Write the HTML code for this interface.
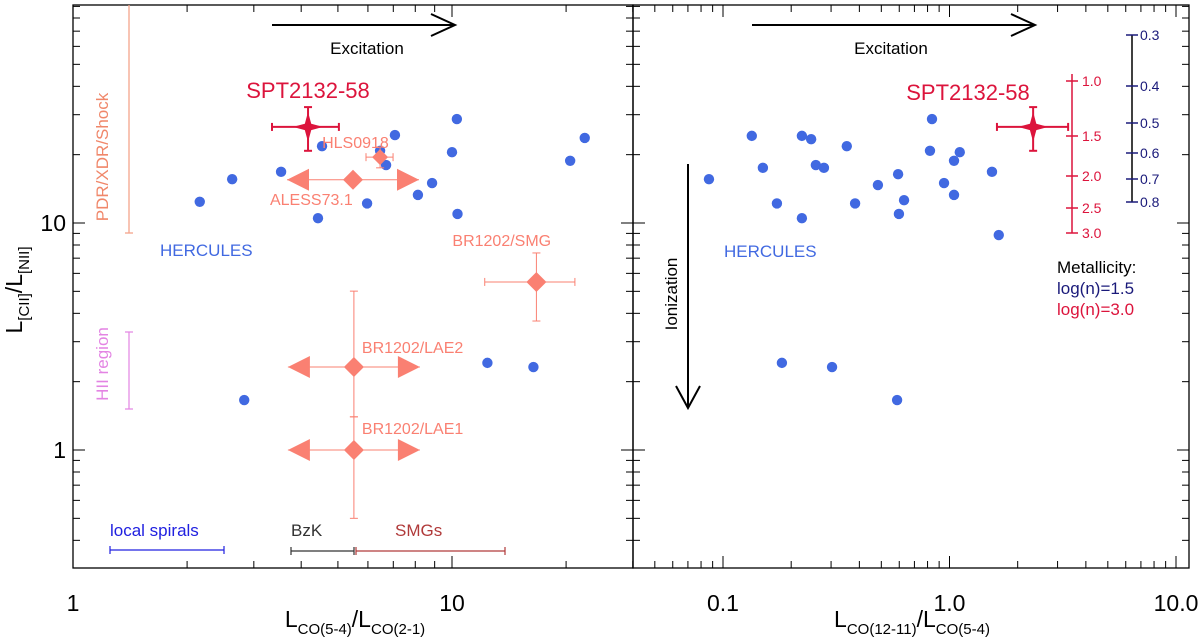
<!DOCTYPE html>
<html><head><meta charset="utf-8">
<style>
html,body{margin:0;padding:0;background:#fff;}
svg{display:block;font-family:"Liberation Sans",Arial,sans-serif;}
</style></head>
<body>
<svg id="chart" width="1200" height="642" viewBox="0 0 1200 642" xmlns="http://www.w3.org/2000/svg">
<rect width="1200" height="642" fill="#fff"/>
<g id="g"></g>
</svg>
<script>
// ---- data ----
var leftHercX = [2.16,2.63,3.54,4.54,4.43,5.97,6.46,6.70,7.07,8.13,8.86,10.0,10.3,10.34,20.5,22.4,12.4,16.4,2.83];
var leftHercY = [12.4,15.6,16.8,21.8,10.5,12.2,20.8,18.0,24.4,13.3,15.0,20.5,28.7,10.96,18.8,23.7,2.42,2.32,1.66];
var rightHercX = [0.0867,0.134,0.150,0.173,0.223,0.245,0.223,0.257,0.279,0.352,0.383,0.483,0.593,0.630,0.598,0.837,0.820,1.11,1.047,0.946,1.047,1.54,1.65,0.182,0.303,0.587];
var rightHercY = [15.6,24.2,17.5,12.2,24.2,23.4,10.5,18.0,17.5,21.8,12.2,14.7,16.4,12.6,10.96,28.7,20.8,20.5,18.8,15.0,13.3,16.8,8.85,2.42,2.32,1.66];
var sptLeft = {x:4.17, y:26.5, xlo:3.35, xhi:5.03, ylo:20.8, yhi:32.4};
var sptRight = {x:2.34, y:26.5, xlo:1.62, xhi:3.34, ylo:20.8, yhi:32.4};
var smgNames = ["HLS0918","ALESS73.1","BR1202/SMG","BR1202/LAE2","BR1202/LAE1"];
var smgX =   [6.46, 5.48, 16.7, 5.51, 5.51];
var smgY =   [19.5, 15.5, 5.5, 2.32, 1.0];
var smgXlo = [5.93, null, 12.2, null, null];
var smgXhi = [6.99, null, 21.1, null, null];
var smgYlo = [17.5, null, 3.70, 1.40, 0.50];
var smgYhi = [21.6, 16.2, 7.38, 5.01, 1.40];
var smgLimit = [false, true, false, true, true];
var leftXTicks = [1,10];
var rightXTicks = [0.1,1.0,10.0];
var rightXTickLabels = ["0.1","1.0","10.0"];
var yTicks = [1,10];
var ionRedVals = [1.0,1.5,2.0,2.5,3.0];
var ionBlueVals = [0.3,0.4,0.5,0.6,0.7,0.8];

// ---- scales ----
var T=5, B=568, LL=73, LR=633, RL=633, RR=1189;
function yS(v){return 450 - Math.log10(v)*227;}
function xL(v){return 73 + Math.log10(v)*379;}
function xR(v){return 723 + (Math.log10(v)+1)*226.5;}
var yMin=Math.pow(10,(450-B)/227), yMax=Math.pow(10,(450-T)/227);

var NS="http://www.w3.org/2000/svg", G=document.getElementById('g');
function el(t,a,p){var e=document.createElementNS(NS,t);for(var k in a)e.setAttribute(k,a[k]);(p||G).appendChild(e);return e;}
function line(x1,y1,x2,y2,c,w,p){return el('line',{x1:x1,y1:y1,x2:x2,y2:y2,stroke:c,'stroke-width':w||1},p);}
function txt(x,y,s,o,p){var a={x:x,y:y};for(var k in o)a[k]=o[k];var e=el('text',a,p);e.textContent=s;return e;}

// ---- frames & ticks ----
function frame(x0,x1,xs,xmin,xmax){
  var f=el('rect',{x:x0,y:T,width:x1-x0,height:B-T,fill:'none',stroke:'#000','stroke-width':1.3});
  
  
  for(var d=-2;d<=2;d++)for(var m=1;m<=9;m++){
    var v=m*Math.pow(10,d); if(v<xmin*0.999||v>xmax*1.001)continue;
    var px=xs(v), L=(m==1)?12:7;
    line(px,B,px,B-L,'#000',1); line(px,T,px,T+L,'#000',1);
  }
  for(var d=-1;d<=2;d++)for(var m=1;m<=9;m++){
    var v=m*Math.pow(10,d); if(v<yMin||v>yMax)continue;
    var py=yS(v), L=(m==1)?12:7;
    line(x0,py,x0+L,py,'#000',1); line(x1,py,x1-L,py,'#000',1);
  }
}
frame(LL,LR,xL,1,Math.pow(10,(LR-73)/379));
frame(RL,RR,xR,Math.pow(10,(RL-723)/226.5-1),Math.pow(10,(RR-723)/226.5-1));

// tick labels
leftXTicks.forEach(function(v){var t=txt(xL(v),611,String(v),{'font-size':23,'text-anchor':'middle'});
  
  });
rightXTicks.forEach(function(v,i){var t=txt(xR(v),611,rightXTickLabels[i],{'font-size':23,'text-anchor':'middle'});
  
  });
yTicks.forEach(function(v){var t=txt(66,yS(v)+8,String(v),{'font-size':23,'text-anchor':'end'});
  
  });

// axis titles
var xt1=el('text',{x:355,y:627,'font-size':23,'text-anchor':'middle'});
xt1.innerHTML='L<tspan font-size="15" dy="7">CO(5-4)</tspan><tspan dy="-7">/L</tspan><tspan font-size="15" dy="7">CO(2-1)</tspan>';


var xt2=el('text',{x:912,y:627,'font-size':23,'text-anchor':'middle'});
xt2.innerHTML='L<tspan font-size="15" dy="7">CO(12-11)</tspan><tspan dy="-7">/L</tspan><tspan font-size="15" dy="7">CO(5-4)</tspan>';


var yt=el('text',{x:0,y:0,'font-size':23,'text-anchor':'middle',transform:'translate(22,290) rotate(-90)'});
yt.innerHTML='L<tspan font-size="15" dy="7">[CII]</tspan><tspan dy="-7">/L</tspan><tspan font-size="15" dy="7">[NII]</tspan>';



// ---- helpers for markers ----
var BLUE='#4169e1', CRIM='#dc143c', SAL='#fa8072';
function errbar(x1,y1,x2,y2,c,w,vert){
  line(x1,y1,x2,y2,c,w||1);
  if(vert){line(x1-4,y1,x1+4,y1,c,w||1);line(x2-4,y2,x2+4,y2,c,w||1);}
  else{line(x1,y1-4,x1,y1+4,c,w||1);line(x2,y2-4,x2,y2+4,c,w||1);}
}
function star(cx,cy,r,c){
  var w=3.2;
  var d='M'+cx+','+(cy-r)+' L'+(cx+w)+','+(cy-w)+' L'+(cx+r)+','+cy+' L'+(cx+w)+','+(cy+w)+' L'+cx+','+(cy+r)+' L'+(cx-w)+','+(cy+w)+' L'+(cx-r)+','+cy+' L'+(cx-w)+','+(cy-w)+'Z';
  return el('path',{d:d,fill:c});
}
function diamond(cx,cy,r,c){return el('path',{d:'M'+cx+','+(cy-r)+' L'+(cx+r)+','+cy+' L'+cx+','+(cy+r)+' L'+(cx-r)+','+cy+'Z',fill:c});}

// ---- Hercules points ----
leftHercX.forEach(function(v,i){var c=el('circle',{cx:xL(v),cy:yS(leftHercY[i]),r:5.2,fill:BLUE});
  
  });
rightHercX.forEach(function(v,i){var c=el('circle',{cx:xR(v),cy:yS(rightHercY[i]),r:5.2,fill:BLUE});
  
  });

// ---- SPT ----
function spt(s,xs){
  errbar(xs(s.xlo),yS(s.y),xs(s.xhi),yS(s.y),CRIM,2,false);
  errbar(xs(s.x),yS(s.ylo),xs(s.x),yS(s.yhi),CRIM,2,true);
  var st=star(xs(s.x),yS(s.y),15,CRIM);
  
  
}
spt(sptLeft,xL); spt(sptRight,xR);

// ---- high-z points ----
var labelOff=[[-58,-9],[-83,25],[-84,-36],[8,-14],[8,-16]];
smgX.forEach(function(v,i){
  var cx=xL(v), cy=yS(smgY[i]);
  if(smgXlo[i]!==null) errbar(xL(smgXlo[i]),cy,xL(smgXhi[i]),cy,SAL,1,false);
  if(smgYlo[i]!==null) errbar(cx,yS(smgYlo[i]),cx,yS(smgYhi[i]),SAL,1,true);
  else line(cx,cy,cx,yS(smgYhi[i]),SAL,1);
  if(smgYlo[i]===null) line(cx-4,yS(smgYhi[i]),cx+4,yS(smgYhi[i]),SAL,1);
  if(smgLimit[i]){
    line(cx-66,cy,cx+66,cy,SAL,1);
    el('path',{d:'M'+(cx-66)+','+cy+' L'+(cx-44)+','+(cy-11)+' L'+(cx-44)+','+(cy+11)+'Z',fill:SAL});
    el('path',{d:'M'+(cx+66)+','+cy+' L'+(cx+44)+','+(cy-11)+' L'+(cx+44)+','+(cy+11)+'Z',fill:SAL});
  }
  var dm=diamond(cx,cy,(i==0)?8:10,SAL);
  
  
  var t=txt(cx+labelOff[i][0],cy+labelOff[i][1],smgNames[i],{'font-size':16,fill:SAL});
  
  
});

// ---- annotations ----
function arrowH(x1,x2,y,name){
  var g=el('g',{});
  line(x1,y,x2,y,'#000',2,g);
  el('path',{d:'M'+(x2-24)+','+(y-11)+' L'+x2+','+y+' L'+(x2-24)+','+(y+11),fill:'none',stroke:'#000','stroke-width':2},g);
}
arrowH(272,455,25,'excitation-arrow-left');
arrowH(752,1035,25,'excitation-arrow-right');
var e1=txt(367,54,'Excitation',{'font-size':17,'text-anchor':'middle'});


var e2=txt(891,54,'Excitation',{'font-size':17,'text-anchor':'middle'});


// ionization arrow
var ia=el('g',{});
line(688,164,688,408,'#000',2,ia);
el('path',{d:'M676,386 L688,408 L700,386',fill:'none',stroke:'#000','stroke-width':2},ia);
var il=txt(0,0,'Ionization',{'font-size':17,'text-anchor':'middle',transform:'translate(677,294) rotate(-90)'});



var s1=txt(308,98,'SPT2132-58',{'font-size':22,fill:CRIM,'text-anchor':'middle'});


var s2=txt(968,100,'SPT2132-58',{'font-size':22,fill:CRIM,'text-anchor':'middle'});


var h1=txt(160,256,'HERCULES',{'font-size':17,fill:BLUE});


var h2=txt(724,257,'HERCULES',{'font-size':17,fill:BLUE});



// PDR and HII bars
var PDRC='#f4a48c';
line(129,T,129,233,PDRC,1.3); line(125,233,133,233,PDRC,1.3);
var pl=txt(0,0,'PDR/XDR/Shock',{'font-size':17,fill:'#f0876a','text-anchor':'middle',transform:'translate(108,157) rotate(-90)'});


var HC='#e384e3';
line(129,332,129,409,HC,1.2); line(125,332,133,332,HC,1.2); line(125,409,133,409,HC,1.2);
var hl=txt(0,0,'HII region',{'font-size':17,fill:HC,'text-anchor':'middle',transform:'translate(108,364) rotate(-90)'});



// bottom ranges
function rng(x1,x2,y,c,label,lx,name){
  errbar(x1,y,x2,y,c,1.2,false);
  var t=txt(lx,536,label,{'font-size':17,fill:c});
  
  
}
rng(110,224,550,'#2020e0','local spirals',110,'local-spirals-label');
rng(291,354,551,'#333','BzK',291,'bzk-label');
rng(356,505,551,'#b03a3a','SMGs',395,'smgs-label');

// metallicity scales
var rg=el('g',{});
var redY=[81,136,176,208,233];
line(1072,74,1072,233,CRIM,1.5,rg);
ionRedVals.forEach(function(v,i){line(1066,redY[i],1078,redY[i],CRIM,1.5,rg);
  txt(1082,redY[i]+5,v.toFixed(1),{'font-size':14,fill:CRIM},rg);});
var bg=el('g',{});
var blueY=[35,86,123,153,179,202];
line(1132,35,1132,202,'#000',1.5,bg);
ionBlueVals.forEach(function(v,i){line(1126,blueY[i],1138,blueY[i],'#1a1a7a',1.5,bg);
  txt(1140,blueY[i]+5,v.toFixed(1),{'font-size':14,fill:'#1a1a7a'},bg);});
var m1=txt(1057,273,'Metallicity:',{'font-size':17,fill:'#000'});


var m2=txt(1057,294,'log(n)=1.5',{'font-size':17,fill:'#1a1a7a'});


var m3=txt(1057,315,'log(n)=3.0',{'font-size':17,fill:CRIM});


</script>
</body></html>
